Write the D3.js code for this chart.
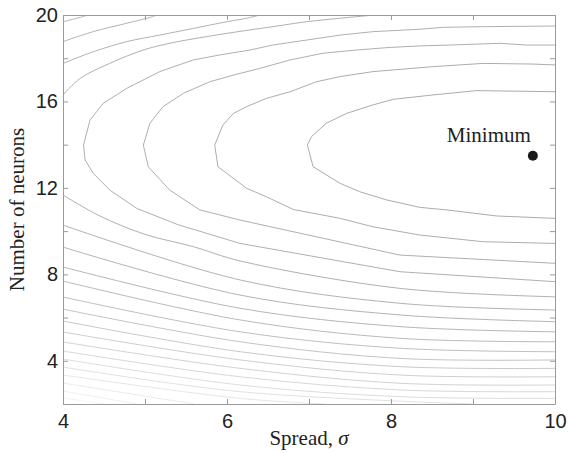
<!DOCTYPE html>
<html>
<head>
<meta charset="utf-8">
<script src="https://cdn.jsdelivr.net/npm/d3@7"></script>
<style>
  body { margin: 0; background: #fff; }
  .tick-label { font-family: "Liberation Sans", Arial, sans-serif; font-size: 20px; fill: #222; }
  .title { font-family: "Liberation Serif", "Times New Roman", serif; font-size: 21px; fill: #222; }
</style>
</head>
<body>
<div id="chart"></div>
<script>
// axis ticks
const sigmaTicks = [4, 5, 6, 7, 8, 9, 10];
const sigmaLabels = [4, 6, 8, 10];
const neuronTicks = [2, 4, 6, 8, 10, 12, 14, 16, 18, 20];
const neuronLabels = [4, 8, 12, 16, 20];

// contour lines, [spread, neurons], level 1 = closest to the minimum
const contour1 = [[10, 16.45], [9.04, 16.5], [8.51, 16.3], [8.03, 16.1], [7.78, 15.84], [7.46, 15.45], [7.21, 14.99], [7.03, 14.37], [6.98, 13.98],
  [7.05, 12.98], [7.38, 12.21], [7.62, 11.82], [7.95, 11.44], [8.35, 11.1], [8.68, 10.98], [9.29, 10.7], [10, 10.59]];
const contour2 = [[10, 17.69], [9.73, 17.73], [9.12, 17.76], [8.51, 17.61], [7.78, 17.38], [7.38, 17.15], [7.09, 16.91], [6.77, 16.45], [6.48, 16.14], [6.24, 15.76], [6.08, 15.45], [5.95, 14.91], [5.85, 13.98],
  [5.89, 12.98], [6.24, 11.98], [6.48, 11.59], [6.81, 11.0], [7.38, 10.59], [7.78, 10.2], [8.35, 9.82], [9.12, 9.51], [10, 9.43]];
const contour3 = [[10, 18.61], [9.65, 18.61], [9.33, 18.69], [8.72, 18.61], [8.35, 18.57], [7.99, 18.5], [7.58, 18.38], [7.17, 18.23], [6.77, 17.92], [6.4, 17.53], [6.08, 17.22], [5.79, 16.91], [5.47, 16.38], [5.22, 15.76], [5.06, 14.99], [4.98, 13.98],
  [5.04, 12.98], [5.3, 11.9], [5.67, 10.98], [6.16, 10.51], [8.11, 8.89], [10, 8.51]];
const contour4 = [[10, 19.49], [9.13, 19.46], [8.64, 19.43], [8.35, 19.34], [7.78, 19.23], [7.38, 19.07], [6.97, 18.84], [6.56, 18.61], [6.28, 18.38], [5.91, 18.15], [5.59, 17.92], [5.18, 17.38], [4.78, 16.61], [4.49, 15.91], [4.33, 15.14], [4.25, 13.98],
  [4.27, 13.29], [4.37, 12.67], [4.57, 11.9], [4.9, 11.05], [5.4, 10.3], [6.16, 9.43], [8.11, 8.12], [10, 7.66]];
const contour5Upper = [[4, 16.3], [4.21, 17.07], [4.57, 17.76], [4.98, 18.38], [5.3, 18.69], [5.75, 19.0], [6.28, 19.31], [6.56, 19.46], [6.97, 19.69], [7.38, 19.85], [7.8, 20]];
const contour5Lower = [[4, 11.67], [4.45, 10.7], [5.0, 9.85], [5.59, 9.28], [6.16, 8.62], [8.11, 7.35], [10, 6.96]];
const contour6Upper = [[4, 17.76], [4.37, 18.3], [4.78, 18.77], [5.18, 19.07], [5.59, 19.38], [6.0, 19.69], [6.24, 19.85], [6.4, 20]];
const contour6Lower = [[4, 10.28], [6.16, 7.74], [8.11, 6.66], [10, 6.35]];
const contour7Upper = [[4, 18.77], [4.37, 19.23], [4.78, 19.62], [5.06, 19.89], [5.15, 20]];
const contour7Lower = [[4, 9.26], [6.16, 7.04], [8.11, 6.12], [10, 5.81]];
const contour8Upper = [[4, 19.69], [4.21, 19.89], [4.3, 20]];
const contour8Lower = [[4, 8.34], [6.16, 6.43], [8.11, 5.58], [10, 5.34]];
const contour9 = [[4, 7.69], [6.16, 5.89], [8.11, 5.04], [10, 4.88]];
const contour10 = [[4, 6.95], [6.16, 5.34], [8.11, 4.58], [10, 4.42]];
const contour11 = [[4, 6.39], [6.16, 4.88], [8.11, 4.11], [10, 4.04]];
const contour12 = [[4, 5.84], [6.16, 4.42], [8.11, 3.73], [10, 3.65]];
const contour13 = [[4, 5.33], [6.16, 4.04], [8.11, 3.34], [10, 3.26]];
const contour14 = [[4, 4.87], [6.16, 3.65], [8.11, 2.96], [10, 2.88]];
const contour15 = [[4, 4.45], [6.16, 3.26], [8.11, 2.65], [10, 2.57]];
const contour16 = [[4, 4.08], [6.16, 2.88], [8.11, 2.34], [10, 2.26]];
const contour17 = [[4, 3.71], [6.16, 2.57], [9.0, 2.0]];
const contour18 = [[4, 3.34], [6.16, 2.26], [7.2, 2.0]];
const contour19 = [[4, 2.97], [5.6, 2.0]];
const contour20 = [[4, 2.6], [4.9, 2.0]];
const contour21 = [[4, 2.28], [4.5, 2.0]];

const contourLevels = [1, 2, 3, 4, 5, 5, 6, 6, 7, 7, 8, 8, 9, 10, 11, 12, 13, 14, 15, 16, 17, 18, 19, 20, 21];
const contourPaths = [contour1, contour2, contour3, contour4, contour5Upper, contour5Lower, contour6Upper, contour6Lower,
  contour7Upper, contour7Lower, contour8Upper, contour8Lower, contour9, contour10, contour11, contour12, contour13,
  contour14, contour15, contour16, contour17, contour18, contour19, contour20, contour21];

const minimumPoint = [9.73, 13.49];
const minimumLabel = 'Minimum';

const width = 568, height = 453;
const margin = { top: 15, right: 13, bottom: 49, left: 63 };
const innerW = width - margin.left - margin.right;
const innerH = height - margin.top - margin.bottom;

const svg = d3.select('#chart').append('svg')
  .attr('width', width)
  .attr('height', height);

const xScale = d3.scaleLinear().domain([4, 10]).range([margin.left, margin.left + innerW]);
const yScale = d3.scaleLinear().domain([2, 20]).range([margin.top + innerH, margin.top]);

const shade = d3.scaleLinear().domain([1, 8, 21]).range(['#959595', '#a2a2a2', '#f2f2f2']);

svg.append('clipPath').attr('id', 'plot-clip')
  .append('rect')
  .attr('x', margin.left).attr('y', margin.top)
  .attr('width', innerW).attr('height', innerH);

// densely traced lines stay polygonal like the original, sparse ones get smoothed
const polyLine = d3.line()
  .x(d => xScale(d[0]))
  .y(d => yScale(d[1]));
const smoothLine = d3.line()
  .x(d => xScale(d[0]))
  .y(d => yScale(d[1]))
  .curve(d3.curveCatmullRom.alpha(0.5));

// contour lines
svg.append('g')
  .attr('clip-path', 'url(#plot-clip)')
  .selectAll('path')
  .data(contourPaths)
  .enter()
  .append('path')
    .attr('d', d => d.length > 12 ? polyLine(d) : smoothLine(d))
    .attr('fill', 'none')
    .attr('stroke', (d, i) => shade(contourLevels[i]))
    .attr('stroke-width', 0.8);

// box and inward ticks on all sides
const axisColor = '#9a9a9a';
const styleAxis = (g) => {
  g.selectAll('.domain').attr('stroke', axisColor);
  g.selectAll('.tick line').attr('stroke', axisColor);
  g.selectAll('.tick text').attr('class', 'tick-label').attr('fill', '#222');
};

svg.append('g')
  .attr('transform', `translate(0, ${margin.top + innerH})`)
  .call(d3.axisBottom(xScale).tickValues(sigmaTicks).tickSizeInner(-5).tickSizeOuter(0).tickPadding(9)
    .tickFormat(d => sigmaLabels.includes(d) ? d : ''))
  .call(styleAxis)
  .selectAll('text').attr('dy', '0.75em');

svg.append('g')
  .attr('transform', `translate(0, ${margin.top})`)
  .call(d3.axisTop(xScale).tickValues(sigmaTicks).tickSizeInner(-5).tickSizeOuter(0).tickFormat(''))
  .call(styleAxis);

svg.append('g')
  .attr('transform', `translate(${margin.left}, 0)`)
  .call(d3.axisLeft(yScale).tickValues(neuronTicks).tickSizeInner(-5).tickSizeOuter(0).tickPadding(5)
    .tickFormat(d => neuronLabels.includes(d) ? d : ''))
  .call(styleAxis);

svg.append('g')
  .attr('transform', `translate(${margin.left + innerW}, 0)`)
  .call(d3.axisRight(yScale).tickValues(neuronTicks).tickSizeInner(-5).tickSizeOuter(0).tickFormat(''))
  .call(styleAxis);

svg.selectAll('.tick-label').attr('font-family', null).attr('font-size', null);

// minimum marker
svg.append('circle')
  .attr('cx', xScale(minimumPoint[0]))
  .attr('cy', yScale(minimumPoint[1]))
  .attr('r', 5)
  .attr('fill', '#1a1a1a');

svg.append('text')
  .attr('class', 'title')
  .attr('x', xScale(minimumPoint[0]) - 44)
  .attr('y', yScale(minimumPoint[1]) - 14)
  .attr('text-anchor', 'middle')
  .text(minimumLabel);

// axis titles
const xTitle = svg.append('text')
  .attr('class', 'title')
  .attr('x', margin.left + innerW / 2)
  .attr('y', 445)
  .attr('text-anchor', 'middle');
xTitle.append('tspan').text('Spread, ');
xTitle.append('tspan').attr('font-style', 'italic').text('σ');

svg.append('text')
  .attr('class', 'title')
  .attr('transform', `translate(24, ${margin.top + innerH / 2}) rotate(-90)`)
  .attr('text-anchor', 'middle')
  .text('Number of neurons');
</script>
</body>
</html>
